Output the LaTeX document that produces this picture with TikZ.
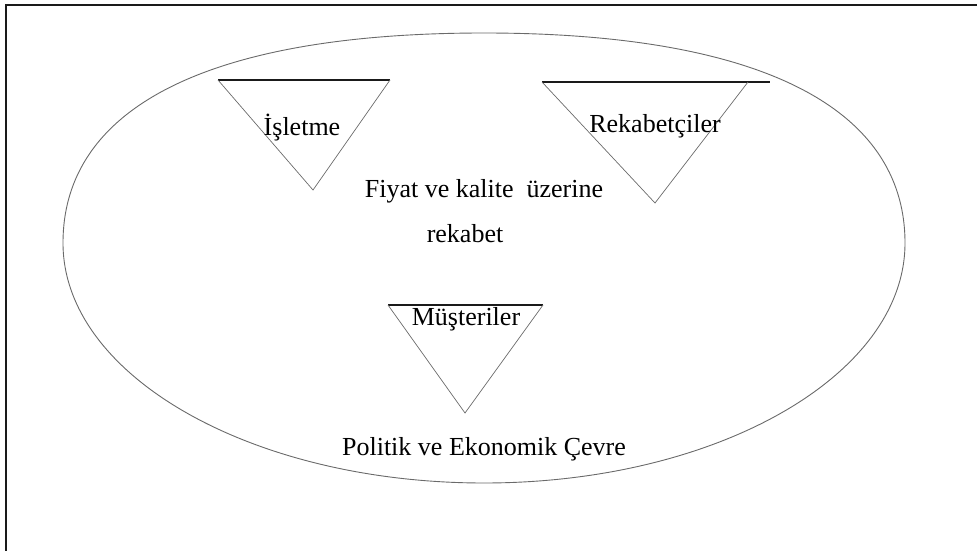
\documentclass[tikz,border=0pt]{standalone}
\usepackage{fontspec}
\setmainfont{Liberation Serif}
\usetikzlibrary{positioning}
\definecolor{ink}{HTML}{1A1A1A}
\definecolor{faint}{HTML}{6A6A6A}
\tikzset{
  frame/.style={draw=ink,line width=1.2pt},
  field/.style={draw=faint,line width=0.9pt},
  lid/.style={draw=ink,line width=1.4pt},
  side/.style={draw=faint,line width=0.7pt},
  label/.style={anchor=base,inner sep=0pt,font=\fontsize{26}{30}\selectfont}
}

\begin{document}
\begin{tikzpicture}[x=1pt,y=-1pt]
\useasboundingbox (0,0) rectangle (977,551);
% outer frame, only top and left edges show
\draw[frame] (6,551) -- (6,5) -- (977,5);
% environment (a bit fuller at the top)
\draw[field] (63,243) .. controls (63,106.5) and (210.4,33) .. (484,33)
  .. controls (757.6,33) and (905,106.5) .. (905,243)
  .. controls (905,375.6) and (716.5,483) .. (484,483)
  .. controls (251.5,483) and (63,375.6) .. cycle;
% firm
\coordinate (firmA) at (218,80);
\coordinate (firmB) at (390,80);
\coordinate (firmC) at (313,190);
\draw[lid] (firmA) -- (firmB);
\draw[side] (firmA) -- (firmC) -- (firmB);
% rivals
\coordinate (rivalA) at (542,82);
\coordinate (rivalB) at (748,82);
\coordinate (rivalE) at (770,82);
\coordinate (rivalC) at (655,203);
\draw[lid] (rivalA) -- (rivalE);
\draw[side] (rivalA) -- (rivalC) -- (rivalB);
% customers
\coordinate (custA) at (388,305);
\coordinate (custB) at (543,305);
\coordinate (custC) at (465,413);
\draw[lid] (custA) -- (custB);
\draw[side] (custA) -- (custC) -- (custB);
\node[label] (firm) at (302,135) {İşletme};
\node[label] (rival) at (655,132) {Rekabetçiler};
\node[label] (price) at (484,197) {Fiyat ve kalite \ üzerine};
\node[label] (compete) at (465,242) {rekabet};
\node[label] (cust) at (466,325) {Müşteriler};
\node[label] (env) at (484,455) {Politik ve Ekonomik Çevre};
\end{tikzpicture}
\end{document}
